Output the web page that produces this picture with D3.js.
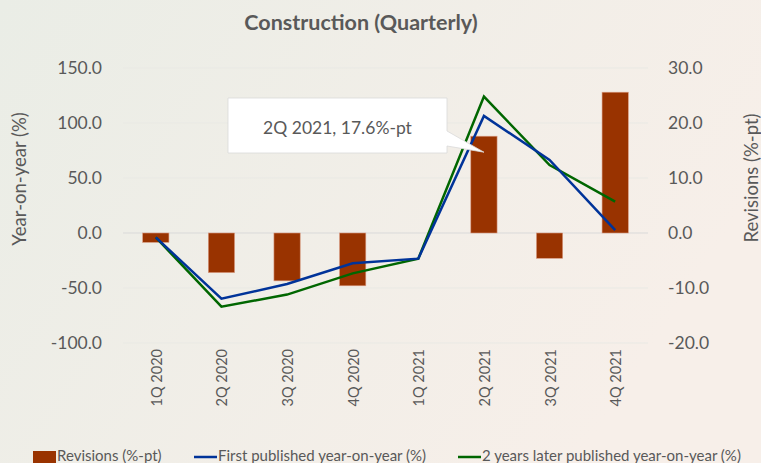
<!DOCTYPE html>
<html>
<head>
<meta charset="utf-8">
<script src="https://cdn.jsdelivr.net/npm/d3@7"></script>
<style>
  html, body { margin: 0; padding: 0; overflow: hidden; }
  body { width: 761px; height: 463px; }
  text { font-family: Lato, "Open Sans", sans-serif; fill: #595959; }
</style>
</head>
<body>
<script>
// chart data
const quarters = ["1Q 2020", "2Q 2020", "3Q 2020", "4Q 2020", "1Q 2021", "2Q 2021", "3Q 2021", "4Q 2021"];
const revisions = [-1.7, -7.2, -8.7, -9.6, 0.0, 17.6, -4.6, 25.6];
const firstPublished = [-4.0, -59.7, -46.4, -27.6, -23.3, 106.4, 66.4, 2.7];
const laterPublished = [-4.0, -67.0, -56.0, -36.7, -23.3, 124.0, 61.8, 28.5];
const leftTicks = [-100, -50, 0, 50, 100, 150];
const rightTicks = [-20, -10, 0, 10, 20, 30];

const W = 761, H = 463;
const svg = d3.select("body").append("svg")
  .attr("width", W)
  .attr("height", H)
  .attr("xmlns", "http://www.w3.org/2000/svg");

const defs = svg.append("defs");
const grad = defs.append("linearGradient")
  .attr("id", "bg")
  .attr("x1", "0").attr("y1", "0")
  .attr("x2", "1").attr("y2", "0.4");
grad.append("stop").attr("offset", "0%").attr("stop-color", "#eaede6");
grad.append("stop").attr("offset", "100%").attr("stop-color", "#f7efe9");

svg.append("rect")
  .attr("width", W).attr("height", H)
  .attr("fill", "url(#bg)");

// plot area
const plotLeft = 123, plotRight = 648, plotTop = 68, plotBottom = 343;

const x = d3.scaleBand()
  .domain(quarters)
  .range([plotLeft, plotRight])
  .paddingInner(0.6)
  .paddingOuter(0.3);

const yL = d3.scaleLinear().domain([-100, 150]).range([plotBottom, plotTop]);
const yR = d3.scaleLinear().domain([-20, 30]).range([plotBottom, plotTop]);

// plain hyphen instead of d3's unicode minus
const fmt = d => d.toFixed(1);

// gridlines
svg.append("g")
  .selectAll("line")
  .data(leftTicks)
  .join("line")
  .attr("x1", plotLeft)
  .attr("x2", plotRight)
  .attr("y1", d => yL(d))
  .attr("y2", d => yL(d))
  .attr("stroke", d => d === 0 ? "#d9d9d9" : "#e9e9e4")
  .attr("stroke-width", 1);

// left axis
const leftAxis = svg.append("g")
  .attr("transform", `translate(${plotLeft - 20},0)`)
  .call(d3.axisLeft(yL).tickValues(leftTicks).tickFormat(fmt).tickSize(0));
leftAxis.select(".domain").remove();
leftAxis.selectAll("text")
  .attr("font-size", 17.5)
  .attr("dx", 2)
  .style("fill", "#595959");

// right axis
const rightAxis = svg.append("g")
  .attr("transform", `translate(${plotRight + 17},0)`)
  .call(d3.axisRight(yR).tickValues(rightTicks).tickFormat(fmt).tickSize(0));
rightAxis.select(".domain").remove();
rightAxis.selectAll("text")
  .attr("font-size", 17.5)
  .style("fill", "#595959");

// axis titles
svg.append("text")
  .attr("transform", "translate(26,179) rotate(-90)")
  .attr("text-anchor", "middle")
  .attr("font-size", 18.5)
  .text("Year-on-year (%)");

svg.append("text")
  .attr("transform", "translate(758,178) rotate(-90)")
  .attr("text-anchor", "middle")
  .attr("font-size", 18.5)
  .text("Revisions (%-pt)");

// x labels
svg.append("g")
  .selectAll("text")
  .data(quarters)
  .join("text")
  .attr("transform", d => `translate(${x(d) + x.bandwidth() / 2 + 6},${plotBottom + 6}) rotate(-90)`)
  .attr("text-anchor", "end")
  .attr("font-size", 14.5)
  .text(d => d);

// bars
svg.append("g")
  .selectAll("rect")
  .data(revisions)
  .join("rect")
  .attr("x", (d, i) => x(quarters[i]))
  .attr("width", x.bandwidth())
  .attr("y", d => yR(Math.max(0, d)))
  .attr("height", d => Math.abs(yR(d) - yR(0)))
  .attr("fill", "#993300")
  .attr("stroke", "#d99a80")
  .attr("stroke-width", 0.6);

// lines
const line = d3.line()
  .x((d, i) => x(quarters[i]) + x.bandwidth() / 2)
  .y(d => yL(d));

svg.append("path")
  .datum(laterPublished)
  .attr("d", line)
  .attr("fill", "none")
  .attr("stroke", "#006600")
  .attr("stroke-width", 2.5);

svg.append("path")
  .datum(firstPublished)
  .attr("d", line)
  .attr("fill", "none")
  .attr("stroke", "#003399")
  .attr("stroke-width", 2.5);

// callout for 2Q 2021
const tipX = x("2Q 2021") + x.bandwidth() / 2;
const tipY = yR(17.6) + 16;
const bx0 = 228, bx1 = 447, by0 = 98, by1 = 153;
svg.append("path")
  .attr("d", `M${bx0},${by0} L${bx1},${by0} L${bx1},${by0 + 33} L${tipX},${tipY} L${bx1},${by0 + 48} L${bx1},${by1} L${bx0},${by1} Z`)
  .attr("fill", "#ffffff")
  .attr("stroke", "#d9d9d9")
  .attr("stroke-width", 0.8);

svg.append("text")
  .attr("x", (bx0 + bx1) / 2)
  .attr("y", 134)
  .attr("text-anchor", "middle")
  .attr("font-size", 17.5)
  .text("2Q 2021, 17.6%-pt");

// title
svg.append("text")
  .attr("x", 361)
  .attr("y", 30)
  .attr("text-anchor", "middle")
  .attr("font-size", 21.5)
  .attr("font-weight", "bold")
  .text("Construction (Quarterly)");

// legend
const legendItems = [
  { label: "Revisions (%-pt)", color: "#993300", type: "rect", x: 33 },
  { label: "First published year-on-year (%)", color: "#003399", type: "line", x: 194 },
  { label: "2 years later published year-on-year (%)", color: "#006600", type: "line", x: 458 }
];
const legend = svg.append("g");
legendItems.forEach(item => {
  if (item.type === "rect") {
    legend.append("rect")
      .attr("x", item.x).attr("y", 451)
      .attr("width", 23).attr("height", 12)
      .attr("fill", item.color);
  } else {
    legend.append("line")
      .attr("x1", item.x).attr("x2", item.x + 23)
      .attr("y1", 457).attr("y2", 457)
      .attr("stroke", item.color)
      .attr("stroke-width", 2.5);
  }
  legend.append("text")
    .attr("x", item.x + 24)
    .attr("y", 461)
    .attr("font-size", 15)
    .text(item.label);
});
</script>
</body>
</html>
